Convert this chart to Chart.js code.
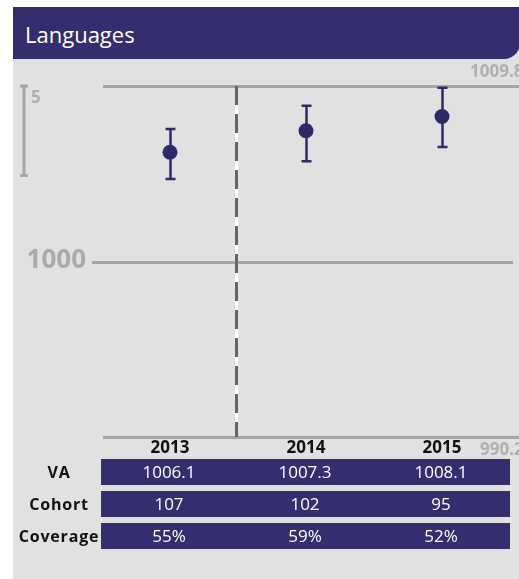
<!DOCTYPE html>
<html>
<head>
<meta charset="utf-8">
<script src="https://cdn.jsdelivr.net/npm/chart.js@4"></script>
<style>
  html, body { margin: 0; padding: 0; background: #fff; width: 519px; height: 579px; overflow: hidden; font-family: "Open Sans", sans-serif; }
  .panel { position: absolute; left: 13px; top: 7px; width: 530px; height: 590px; background: #e1e1e1; }
  .header { position: absolute; left: 13px; top: 7px; width: 507px; height: 52px; background: #352e6e; border-bottom-right-radius: 16px; color: #fff; font-size: 22px; line-height: 54px; padding-left: 12px; box-sizing: border-box; }
  #chart { position: absolute; left: 0; top: 0; }
  .table { position: absolute; left: 0; top: 459px; }
  .row { position: absolute; left: 0; height: 26px; width: 519px; }
  .row .lab { position: absolute; left: 14px; width: 90px; text-align: center; font-weight: bold; font-size: 16px; letter-spacing: 0.8px; line-height: 27px; color: #111; }
  .row .box { position: absolute; left: 101px; width: 409px; height: 26px; background: #352e6e; }
  .row .cell { position: absolute; width: 136px; text-align: center; color: #fff; font-size: 17px; line-height: 26px; }
</style>
</head>
<body>
<div class="panel"></div>
<div class="header">Languages</div>
<canvas id="chart" width="519" height="579"></canvas>
<div class="table" id="table"></div>
<script>
const years = ['2013', '2014', '2015'];
const vaScores = [1006.1, 1007.3, 1008.1];
const vaLower = [1004.6, 1005.6, 1006.4];
const vaUpper = [1007.4, 1008.7, 1009.7];
const cohort = [107, 102, 95];
const coverage = ['55%', '59%', '52%'];
const yMin = 990.2;
const yMax = 1009.8;
const midLine = 1000;
const scaleBarSize = 5;

const purple = '#2f2a66';
const grey = '#a6a6a6';

// table rows under the chart
const rows = [
  { label: 'VA', values: vaScores.map(v => v.toFixed(1)) },
  { label: 'Cohort', values: cohort },
  { label: 'Coverage', values: coverage },
];
const table = document.getElementById('table');
rows.forEach((row, i) => {
  const div = document.createElement('div');
  div.className = 'row';
  div.style.top = (i * 32) + 'px';
  let html = '<div class="lab">' + row.label + '</div><div class="box">';
  row.values.forEach((v, j) => {
    html += '<div class="cell" style="left:' + (j * 136) + 'px">' + v + '</div>';
  });
  html += '</div>';
  div.innerHTML = html;
  table.appendChild(div);
});

const decorPlugin = {
  id: 'decor',
  beforeDatasetsDraw(chart) {
    const ctx = chart.ctx;
    const x = chart.scales.x;
    const y = chart.scales.y;
    const area = chart.chartArea;
    ctx.save();

    // horizontal reference lines
    ctx.strokeStyle = grey;
    ctx.lineWidth = 3;
    const hline = (val, x0, x1) => {
      const py = Math.round(y.getPixelForValue(val)) + 0.5;
      ctx.beginPath();
      ctx.moveTo(x0, py);
      ctx.lineTo(x1, py);
      ctx.stroke();
    };
    hline(yMax, area.left + 1, 519);
    hline(yMin, area.left + 1, 519);
    hline(midLine, area.left - 10, area.right + 3);

    // dashed divider between the first two years
    const dx = Math.round((x.getPixelForValue(0) + x.getPixelForValue(1)) / 2) - 1.5;
    ctx.strokeStyle = '#ffffff';
    ctx.beginPath();
    ctx.moveTo(dx, area.top);
    ctx.lineTo(dx, area.bottom);
    ctx.stroke();
    ctx.strokeStyle = '#666666';
    ctx.setLineDash([19, 9]);
    ctx.beginPath();
    ctx.moveTo(dx, area.top);
    ctx.lineTo(dx, area.bottom);
    ctx.stroke();
    ctx.setLineDash([]);

    // scale bar of 5 points on the left
    const s0 = y.getPixelForValue(yMax);
    const s1 = y.getPixelForValue(yMax - scaleBarSize);
    ctx.strokeStyle = grey;
    ctx.lineWidth = 3;
    ctx.beginPath();
    ctx.moveTo(24, s0);
    ctx.lineTo(24, s1);
    ctx.moveTo(20, s0);
    ctx.lineTo(28, s0);
    ctx.moveTo(20, s1);
    ctx.lineTo(28, s1);
    ctx.stroke();

    // labels
    ctx.fillStyle = '#b0b0b0';
    ctx.textBaseline = 'middle';
    ctx.font = 'bold 17px "Open Sans"';
    ctx.textAlign = 'left';
    ctx.fillText(String(scaleBarSize), 31, s0 + 12);
    ctx.fillText(yMax.toFixed(1), 470, y.getPixelForValue(yMax) - 14);
    ctx.fillText(yMin.toFixed(1), 480, y.getPixelForValue(yMin) + 13);
    ctx.font = 'bold 26px "Open Sans"';
    ctx.fillStyle = '#aaaaaa';
    ctx.textAlign = 'right';
    ctx.fillText(String(midLine), 86, y.getPixelForValue(midLine) - 1);

    // year labels
    ctx.fillStyle = '#111';
    ctx.font = 'bold 17px "Open Sans"';
    ctx.textAlign = 'center';
    years.forEach((yr, i) => {
      ctx.fillText(yr, x.getPixelForValue(i), area.bottom + 11);
    });

    // error bars
    ctx.strokeStyle = purple;
    ctx.lineWidth = 2.5;
    vaScores.forEach((v, i) => {
      const px = Math.round(x.getPixelForValue(i)) + 0.5;
      const lo = y.getPixelForValue(vaLower[i]);
      const hi = y.getPixelForValue(vaUpper[i]);
      ctx.beginPath();
      ctx.moveTo(px, lo);
      ctx.lineTo(px, hi);
      ctx.moveTo(px - 5, lo);
      ctx.lineTo(px + 5, lo);
      ctx.moveTo(px - 5, hi);
      ctx.lineTo(px + 5, hi);
      ctx.stroke();
    });
    ctx.restore();
  }
};

new Chart(document.getElementById('chart'), {
  type: 'line',
  data: {
    labels: years,
    datasets: [{
      label: 'VA',
      data: vaScores,
      showLine: false,
      pointRadius: 7.5,
      pointHoverRadius: 7.5,
      pointBackgroundColor: purple,
      pointBorderColor: purple,
      pointBorderWidth: 0,
    }],
  },
  options: {
    responsive: false,
    animation: false,
    events: [],
    layout: { padding: { left: 102, right: 9, top: 86, bottom: 142 } },
    plugins: { legend: { display: false }, tooltip: { enabled: false } },
    scales: {
      x: { type: 'category', offset: true, display: false },
      y: { min: yMin, max: yMax, display: false },
    },
  },
  plugins: [decorPlugin],
});
</script>
</body>
</html>
